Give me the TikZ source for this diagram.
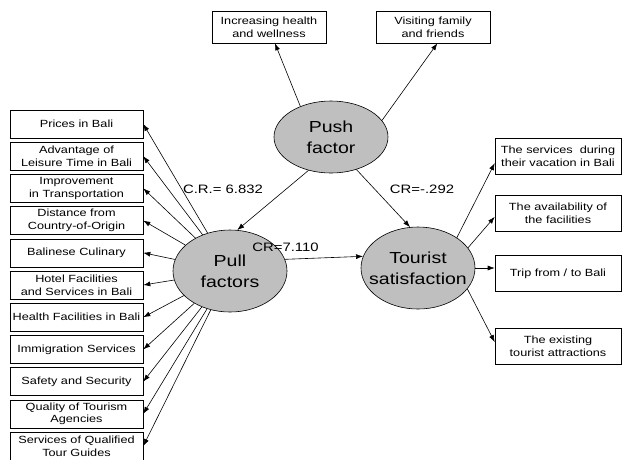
\documentclass[tikz,border=0pt]{standalone}
\usepackage{fontspec}
\newfontfamily\figfont[FakeStretch=1.22]{Liberation Sans}
\usetikzlibrary{arrows.meta,shapes.geometric}

\begin{document}
\begin{tikzpicture}[x=1pt, y=-1pt, line width=0.6pt, -{Latex[length=7pt,width=5pt]},
	factor/.style={ellipse, draw, fill=lightgray, inner sep=-18pt, minimum width=114pt, minimum height=82pt, align=center, font={\figfont\fontsize{16}{21}\selectfont}},
	itembox/.style={draw, fill=white, inner sep=1pt, align=center, font={\figfont\fontsize{10.4}{12.7}\selectfont}},
	leftbox/.style={itembox, minimum width=133pt, minimum height=28pt},
	rightbox/.style={itembox, minimum width=126pt, minimum height=36pt},
	topbox/.style={itembox, minimum width=114pt, minimum height=32pt},
	crlabel/.style={inner sep=0pt, font={\figfont\fontsize{12.2}{14}\selectfont}}]
	\useasboundingbox (0,0) rectangle (623,459);
	% latent factors
	\node[factor, minimum height=72pt] (push) at (331,137) {Push\\factor};
	\node[factor] (pull) at (230,271) {Pull\\factors};
	\node[factor] (tourist) at (418,268) {Tourist\\satisfaction};
	% push indicators
	\node[topbox] (health) at (269,27) {Increasing health\\and wellness};
	\node[topbox] (family) at (433,27) {Visiting family\\and friends};
	% pull indicators
	\node[leftbox] (prices) at (76.5,124) {Prices in Bali};
	\node[leftbox] (leisure) at (76.5,156.2) {Advantage of\\Leisure Time in Bali};
	\node[leftbox] (transport) at (76.5,188.4) {Improvement\\in Transportation};
	\node[leftbox] (distance) at (76.5,220.6) {Distance from\\Country-of-Origin};
	\node[leftbox] (culinary) at (76.5,252.8) {Balinese Culinary};
	\node[leftbox] (hotel) at (76.5,285) {Hotel Facilities\\and Services in Bali};
	\node[leftbox] (healthfac) at (76.5,317.2) {Health Facilities in Bali};
	\node[leftbox] (immigration) at (76.5,349.4) {Immigration Services};
	\node[leftbox] (safety) at (76.5,381.6) {Safety and Security};
	\node[leftbox] (agencies) at (76.5,413.8) {Quality of Tourism\\Agencies};
	\node[leftbox] (guides) at (76.5,446) {Services of Qualified\\Tour Guides};
	% satisfaction indicators
	\node[rightbox] (services) at (558,156.5) {The services~ during\\their vacation in Bali};
	\node[rightbox] (facilities) at (558,213.5) {The availability of\\the facilities};
	\node[rightbox] (trip) at (558,273.5) {Trip from / to Bali};
	\node[rightbox] (attractions) at (558,346.5) {The existing\\tourist attractions};
	% critical ratios
	\node[crlabel] (crpushpull) at (223,189) {C.R.= 6.832};
	\node[crlabel] (crpushtour) at (422,189) {CR=-.292};
	\node[crlabel] (crpulltour) at (285.5,247) {CR=7.110};
	% structural paths
	\draw (push.236) -- (pull.80);
	\draw (push.308) -- (tourist.101);
	\draw (pull.12) -- (tourist.168);
	% measurement paths
	\draw (push.135) -- (health.-70);
	\draw (push.18) -- (family.-75);
	\draw (pull) -- (prices.east);
	\draw (pull) -- (leisure.east);
	\draw (pull) -- (transport.east);
	\draw (pull) -- (distance.east);
	\draw (pull) -- (culinary.east);
	\draw (pull) -- (hotel.east);
	\draw (pull) -- (healthfac.east);
	\draw (pull) -- (immigration.east);
	\draw (pull) -- (safety.east);
	\draw (pull) -- (agencies.east);
	\draw (pull) -- (guides.east);
	\draw (tourist.38) -- (services.186);
	\draw (tourist.22) -- (facilities.183);
	\draw (tourist.east) -- (trip.west |- tourist.east);
	\draw (tourist.337) -- (attractions.176);
\end{tikzpicture}
\end{document}
